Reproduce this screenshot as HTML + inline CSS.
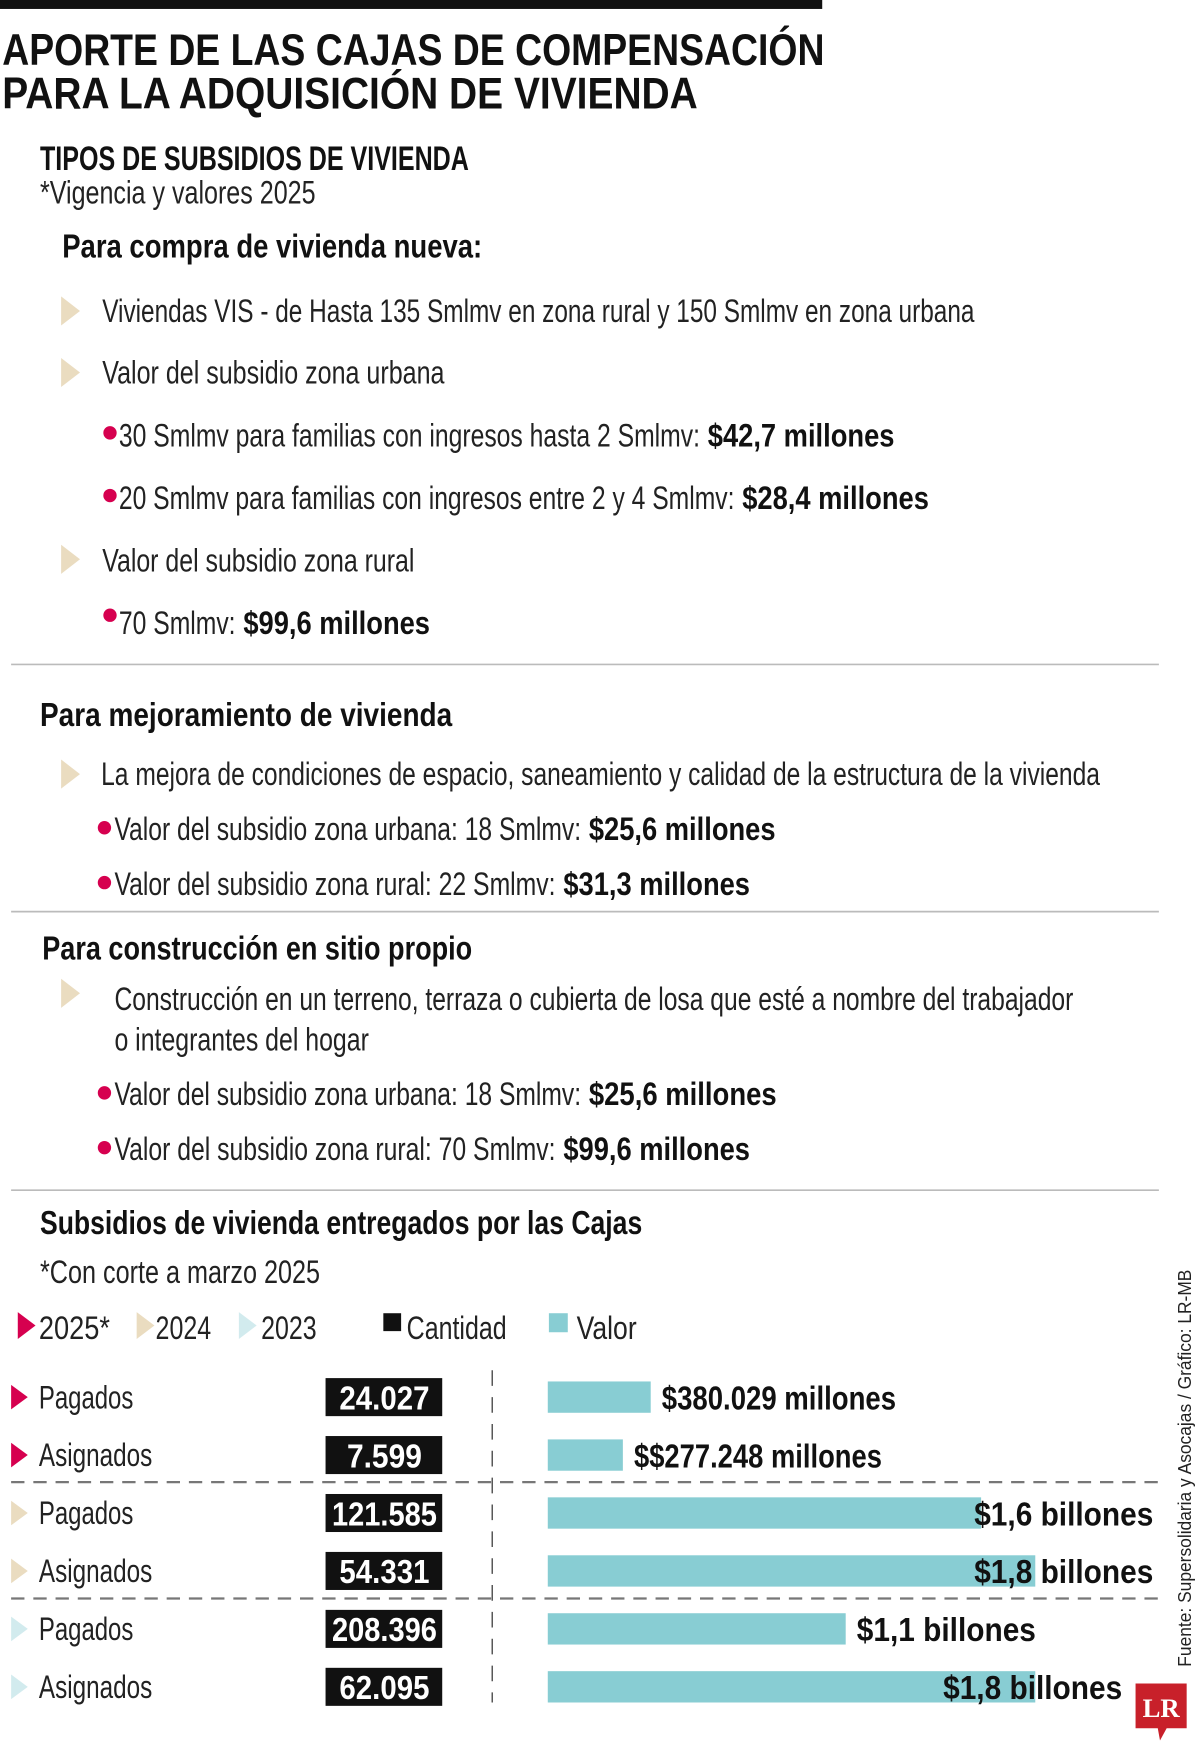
<!DOCTYPE html>
<html><head><meta charset="utf-8">
<style>
html,body{margin:0;padding:0;background:#fff;}
svg{display:block;}
text{font-family:"Liberation Sans Narrow","Liberation Sans",sans-serif;fill:#222;}
.b{font-weight:bold;fill:#111;}
</style></head>
<body>
<svg id="main" width="1200" height="1745" viewBox="0 0 1080 1560" preserveAspectRatio="none">
<rect x="0" y="0" width="740" height="8" fill="#111"/>
<g>
<text x="2" y="58" font-size="40" class="b" textLength="740" lengthAdjust="spacingAndGlyphs">APORTE DE LAS CAJAS DE COMPENSACIÓN</text>
<text x="2" y="97" font-size="40" class="b" textLength="626" lengthAdjust="spacingAndGlyphs">PARA LA ADQUISICIÓN DE VIVIENDA</text>
</g>
<text x="36" y="152" font-size="31" class="b" textLength="386" lengthAdjust="spacingAndGlyphs">TIPOS DE SUBSIDIOS DE VIVIENDA</text>
<text x="36" y="182" font-size="29" textLength="248" lengthAdjust="spacingAndGlyphs">*Vigencia y valores 2025</text>

<g>
<text x="56" y="230" font-size="30" class="b" textLength="378" lengthAdjust="spacingAndGlyphs">Para compra de vivienda nueva:</text>
<polygon points="55,265 72,278 55,291" fill="#eadcc0"/>
<text x="92" y="288" font-size="29" textLength="785" lengthAdjust="spacingAndGlyphs">Viviendas VIS - de Hasta 135 Smlmv en zona rural y 150 Smlmv en zona urbana</text>
<polygon points="55,320 72,333 55,346" fill="#eadcc0"/>
<text x="92" y="343" font-size="29" textLength="308" lengthAdjust="spacingAndGlyphs">Valor del subsidio zona urbana</text>
<circle cx="99" cy="387" r="6" fill="#d6004f"/>
<text x="107" y="399" font-size="29" textLength="523" lengthAdjust="spacingAndGlyphs">30 Smlmv para familias con ingresos hasta 2 Smlmv:</text>
<text x="637" y="399" font-size="29" class="b" textLength="168" lengthAdjust="spacingAndGlyphs">$42,7 millones</text>
<circle cx="99" cy="443" r="6" fill="#d6004f"/>
<text x="107" y="455" font-size="29" textLength="554" lengthAdjust="spacingAndGlyphs">20 Smlmv para familias con ingresos entre 2 y 4 Smlmv:</text>
<text x="668" y="455" font-size="29" class="b" textLength="168" lengthAdjust="spacingAndGlyphs">$28,4 millones</text>
<polygon points="55,487 72,500 55,513" fill="#eadcc0"/>
<text x="92" y="511" font-size="29" textLength="281" lengthAdjust="spacingAndGlyphs">Valor del subsidio zona rural</text>
<circle cx="99" cy="550" r="6" fill="#d6004f"/>
<text x="107" y="567" font-size="29" textLength="105" lengthAdjust="spacingAndGlyphs">70 Smlmv:</text>
<text x="219" y="567" font-size="29" class="b" textLength="168" lengthAdjust="spacingAndGlyphs">$99,6 millones</text>
</g>
<line x1="10" y1="594" x2="1043" y2="594" stroke="#bbb" stroke-width="1.5"/>

<g>
<text x="36" y="649" font-size="30" class="b" textLength="371" lengthAdjust="spacingAndGlyphs">Para mejoramiento de vivienda</text>
<polygon points="55,679 72,692 55,705" fill="#eadcc0"/>
<text x="91" y="702" font-size="29" textLength="899" lengthAdjust="spacingAndGlyphs">La mejora de condiciones de espacio, saneamiento y calidad de la estructura de la vivienda</text>
<circle cx="94" cy="740" r="6" fill="#d6004f"/>
<text x="103" y="751" font-size="29" textLength="420" lengthAdjust="spacingAndGlyphs">Valor del subsidio zona urbana: 18 Smlmv:</text>
<text x="530" y="751" font-size="29" class="b" textLength="168" lengthAdjust="spacingAndGlyphs">$25,6 millones</text>
<circle cx="94" cy="789" r="6" fill="#d6004f"/>
<text x="103" y="800" font-size="29" textLength="397" lengthAdjust="spacingAndGlyphs">Valor del subsidio zona rural: 22 Smlmv:</text>
<text x="507" y="800" font-size="29" class="b" textLength="168" lengthAdjust="spacingAndGlyphs">$31,3 millones</text>
</g>
<line x1="10" y1="815" x2="1043" y2="815" stroke="#bbb" stroke-width="1.5"/>

<g>
<text x="38" y="858" font-size="30" class="b" textLength="387" lengthAdjust="spacingAndGlyphs">Para construcción en sitio propio</text>
<polygon points="55,875 72,888 55,901" fill="#eadcc0"/>
<text x="103" y="903" font-size="29" textLength="863" lengthAdjust="spacingAndGlyphs">Construcción en un terreno, terraza o cubierta de losa que esté a nombre del trabajador</text>
<text x="103" y="939" font-size="29" textLength="229" lengthAdjust="spacingAndGlyphs">o integrantes del hogar</text>
<circle cx="94" cy="977" r="6" fill="#d6004f"/>
<text x="103" y="988" font-size="29" textLength="420" lengthAdjust="spacingAndGlyphs">Valor del subsidio zona urbana: 18 Smlmv:</text>
<text x="530" y="988" font-size="29" class="b" textLength="169" lengthAdjust="spacingAndGlyphs">$25,6 millones</text>
<circle cx="94" cy="1026" r="6" fill="#d6004f"/>
<text x="103" y="1037" font-size="29" textLength="397" lengthAdjust="spacingAndGlyphs">Valor del subsidio zona rural: 70 Smlmv:</text>
<text x="507" y="1037" font-size="29" class="b" textLength="168" lengthAdjust="spacingAndGlyphs">$99,6 millones</text>
</g>
<line x1="10" y1="1064" x2="1043" y2="1064" stroke="#bbb" stroke-width="1.5"/>

<text x="36" y="1103" font-size="30" class="b" textLength="542" lengthAdjust="spacingAndGlyphs">Subsidios de vivienda entregados por las Cajas</text>
<text x="36" y="1147" font-size="29" textLength="252" lengthAdjust="spacingAndGlyphs">*Con corte a marzo 2025</text>

<g>
<g><polygon points="16,1173 32,1185 16,1197" fill="#d6004f"/><text x="35" y="1197" font-size="29" textLength="64" lengthAdjust="spacingAndGlyphs">2025*</text></g>
<g><polygon points="123,1173 139,1185 123,1197" fill="#eadcc0"/><text x="140" y="1197" font-size="29" textLength="50" lengthAdjust="spacingAndGlyphs">2024</text></g>
<g><polygon points="215,1173 231,1185 215,1197" fill="#d2ebee"/><text x="235" y="1197" font-size="29" textLength="50" lengthAdjust="spacingAndGlyphs">2023</text></g>
<g><rect x="345" y="1174" width="16" height="16" fill="#111"/><text x="366" y="1197" font-size="29" textLength="90" lengthAdjust="spacingAndGlyphs">Cantidad</text></g>
<g><rect x="494" y="1174" width="17" height="17" fill="#88cdd3"/><text x="519" y="1197" font-size="29" textLength="54" lengthAdjust="spacingAndGlyphs">Valor</text></g>
</g>

<g id="chart">
<line x1="443" y1="1225" x2="443" y2="1522" stroke="#444" stroke-width="1.2" stroke-dasharray="14,10"/>
<line x1="10" y1="1325" x2="1045" y2="1325" stroke="#777" stroke-width="2" stroke-dasharray="12,8"/>
<line x1="10" y1="1429" x2="1045" y2="1429" stroke="#777" stroke-width="2" stroke-dasharray="12,8"/>
</g>

<text transform="translate(1072,1490) rotate(-90)" font-size="17" textLength="355" lengthAdjust="spacingAndGlyphs">Fuente: Supersolidaria y Asocajas / Gráfico: LR-MB</text>
<g>
<path d="M1022,1505 H1068 V1545 H1050 L1044,1556 L1042,1545 H1022 Z" fill="#c8202a"/>
<text x="1045" y="1535" font-size="24" text-anchor="middle" font-weight="bold" style="font-family:'Liberation Serif',serif;fill:#fff">LR</text>
</g>
</svg>
<script>
const years = ['2025','2025','2024','2024','2023','2023'];
const categories = ['Pagados','Asignados','Pagados','Asignados','Pagados','Asignados'];
const cantidad = ['24.027','7.599','121.585','54.331','208.396','62.095'];
const valorBillones = [0.380029, 0.277248, 1.6, 1.8, 1.1, 1.8];
const valorLabels = ['$380.029 millones','$$277.248 millones','$1,6 billones','$1,8 billones','$1,1 billones','$1,8 billones'];
const yearColor = {'2025':'#d6004f','2024':'#eadcc0','2023':'#d2ebee'};

const NS = 'http://www.w3.org/2000/svg';
const chart = document.getElementById('chart');
const x0 = 493, pxPerB = 243.75;
function xScale(v){ return x0 + v * pxPerB; }
function yRow(i){ return 1249 + i * 51.8; }
function mk(tag, attrs){ const e = document.createElementNS(NS, tag); for (const k in attrs) e.setAttribute(k, attrs[k]); return e; }

categories.forEach((c, i) => {
  const y = yRow(i);
  const tri = mk('polygon', {points: `10,${y-11} 25,${y} 10,${y+11}`, fill: yearColor[years[i]]});
  
  
  chart.appendChild(tri);
  const lab = mk('text', {x: 35, y: y + 10, 'font-size': 29, textLength: c === 'Pagados' ? 85 : 102, lengthAdjust: 'spacingAndGlyphs'});
  lab.textContent = c;
  
  
  chart.appendChild(lab);
  const box = mk('rect', {x: 293, y: y - 17, width: 105, height: 34, fill: '#111'});
  
  
  chart.appendChild(box);
  const nw = Math.min(96, cantidad[i].length * 13.5);
  const num = mk('text', {x: 346 - nw / 2, y: y + 11, 'font-size': 30, 'font-weight': 'bold', textLength: nw, lengthAdjust: 'spacingAndGlyphs', style: 'fill:#fff'});
  num.textContent = cantidad[i];
  
  
  chart.appendChild(num);
  const xe = xScale(valorBillones[i]);
  const bar = mk('rect', {x: x0, y: y - 14, width: xe - x0, height: 28, fill: '#88cdd3'});
  
  
  chart.appendChild(bar);
  const w = valorLabels[i].length * 12.4;
  const maxX = y > 1480 ? 1010 : 1038;
  let tx = xe + 10;
  if (tx + w > maxX) tx = maxX - w;
  const vt = mk('text', {x: tx, y: y + 11, 'font-size': 30, 'font-weight': 'bold', textLength: w, lengthAdjust: 'spacingAndGlyphs', style: 'fill:#111'});
  vt.textContent = valorLabels[i];
  
  
  chart.appendChild(vt);
});
</script>
</body></html>
